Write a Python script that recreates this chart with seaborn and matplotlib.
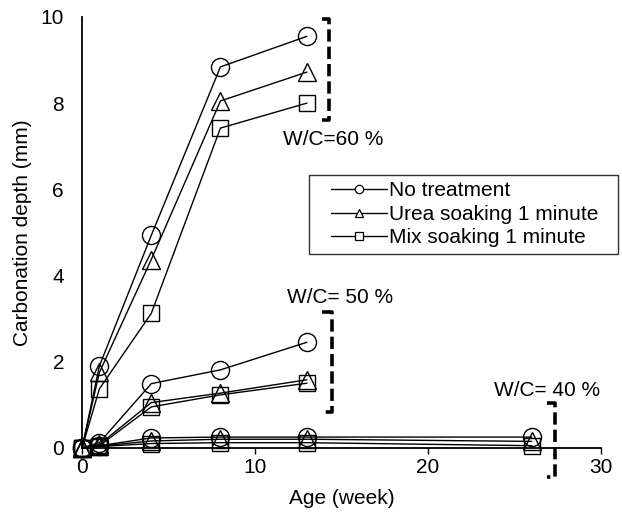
import matplotlib
matplotlib.use("Agg")
import matplotlib.pyplot as plt
from matplotlib.lines import Line2D
from matplotlib.legend_handler import HandlerLine2D
import seaborn as sns
import pandas as pd

# Age of specimens (weeks)
age_short = [0, 1, 4, 8, 13]
age_long = [0, 1, 4, 8, 13, 26]

# W/C = 60 %
wc60_none = [0, 1.9, 4.93, 8.84, 9.55]
wc60_urea = [0, 1.75, 4.37, 8.05, 8.72]
wc60_mix = [0, 1.37, 3.12, 7.42, 8.0]

# W/C = 50 %
wc50_none = [0, 0.12, 1.49, 1.81, 2.45]
wc50_urea = [0, 0.08, 1.05, 1.27, 1.58]
wc50_mix = [0, 0.05, 0.95, 1.23, 1.50]

# W/C = 40 %
wc40_none = [0, 0.05, 0.23, 0.25, 0.25, 0.25]
wc40_urea = [0, 0.04, 0.16, 0.2, 0.2, 0.15]
wc40_mix = [0, 0.03, 0.1, 0.12, 0.12, 0.05]

treatments = ["No treatment", "Urea soaking 1 minute", "Mix soaking 1 minute"]
markers = ["o", "^", "s"]

sns.set_theme(style="white")
plt.rcParams["font.family"] = ["Liberation Sans", "DejaVu Sans"]
plt.rcParams.update({"text.color": "black", "axes.labelcolor": "black",
                     "xtick.color": "black", "ytick.color": "black"})

FS = 15

fig = plt.figure(figsize=(6.22, 5.13), dpi=100)
ax = fig.add_axes([0.132, 0.127, 0.834, 0.840])

groups = [
    (age_short, [wc60_none, wc60_urea, wc60_mix]),
    (age_short, [wc50_none, wc50_urea, wc50_mix]),
    (age_long, [wc40_none, wc40_urea, wc40_mix]),
]

for ages, series in groups:
    for vals, mk in zip(series, markers):
        df = pd.DataFrame({"age": ages, "depth": vals})
        sns.lineplot(data=df, x="age", y="depth", ax=ax, color="black",
                     linewidth=1.0, marker=mk, markersize=13 if mk != "s" else 12,
                     markerfacecolor="none", markeredgecolor="black",
                     markeredgewidth=1.0, clip_on=False, legend=False)

# Dashed brackets grouping each W/C ratio
brackets = [
    (14.3, 13.85, 9.95, 7.6),
    (14.45, 13.9, 3.16, 0.84),
    (27.35, 26.9, 1.05, -0.67),
]
for xb, xh, ytop, ybot in brackets:
    ax.plot([xh, xb, xb, xh], [ytop, ytop, ybot, ybot], color="black",
            linewidth=2.6, linestyle=(0, (3.4, 1.4)),
            dash_capstyle="butt", clip_on=False)

ax.text(11.6, 7.16, "W/C=60 %", fontsize=FS, va="center", ha="left")
ax.text(11.85, 3.5, "W/C= 50 %", fontsize=FS, va="center", ha="left")
ax.text(23.8, 1.33, "W/C= 40 %", fontsize=FS, va="center", ha="left")

ax.set_xlim(0, 30)
ax.set_ylim(0, 10)
ax.set_xticks([0, 10, 20, 30])
ax.set_yticks([0, 2, 4, 6, 8, 10])
ax.set_xlabel("Age (week)", fontsize=FS, labelpad=9)
ax.set_ylabel("Carbonation depth (mm)", fontsize=FS, labelpad=6)
ax.tick_params(axis="x", length=4, width=1, direction="out", pad=3,
               labelsize=FS, bottom=True, color="black")
ax.tick_params(axis="y", length=0, pad=13, labelsize=FS)
sns.despine(ax=ax)
for s in ["left", "bottom"]:
    ax.spines[s].set_color("black")
    ax.spines[s].set_linewidth(1.3)

handles = [Line2D([0], [0], color="black", linewidth=1.0, marker=m,
                  markersize=6, markerfacecolor="white",
                  markeredgecolor="black", markeredgewidth=0.9)
           for m in markers]
x0, y1 = 309 / 622, 1 - 175 / 513
w, h = 309 / 622, 80 / 513
leg = ax.legend(handles, treatments, loc="upper left",
                bbox_to_anchor=(x0, y1 - h, w, h), mode="expand",
                bbox_transform=fig.transFigure, fontsize=FS,
                frameon=True, fancybox=False, edgecolor="black",
                handlelength=3.45, handletextpad=0.1, borderpad=0.3,
                labelspacing=0.22, borderaxespad=0,
                handler_map={Line2D: HandlerLine2D(xpad=0.77)})
leg.get_frame().set_linewidth(1.0)

fig.savefig("out.png", dpi=100)
